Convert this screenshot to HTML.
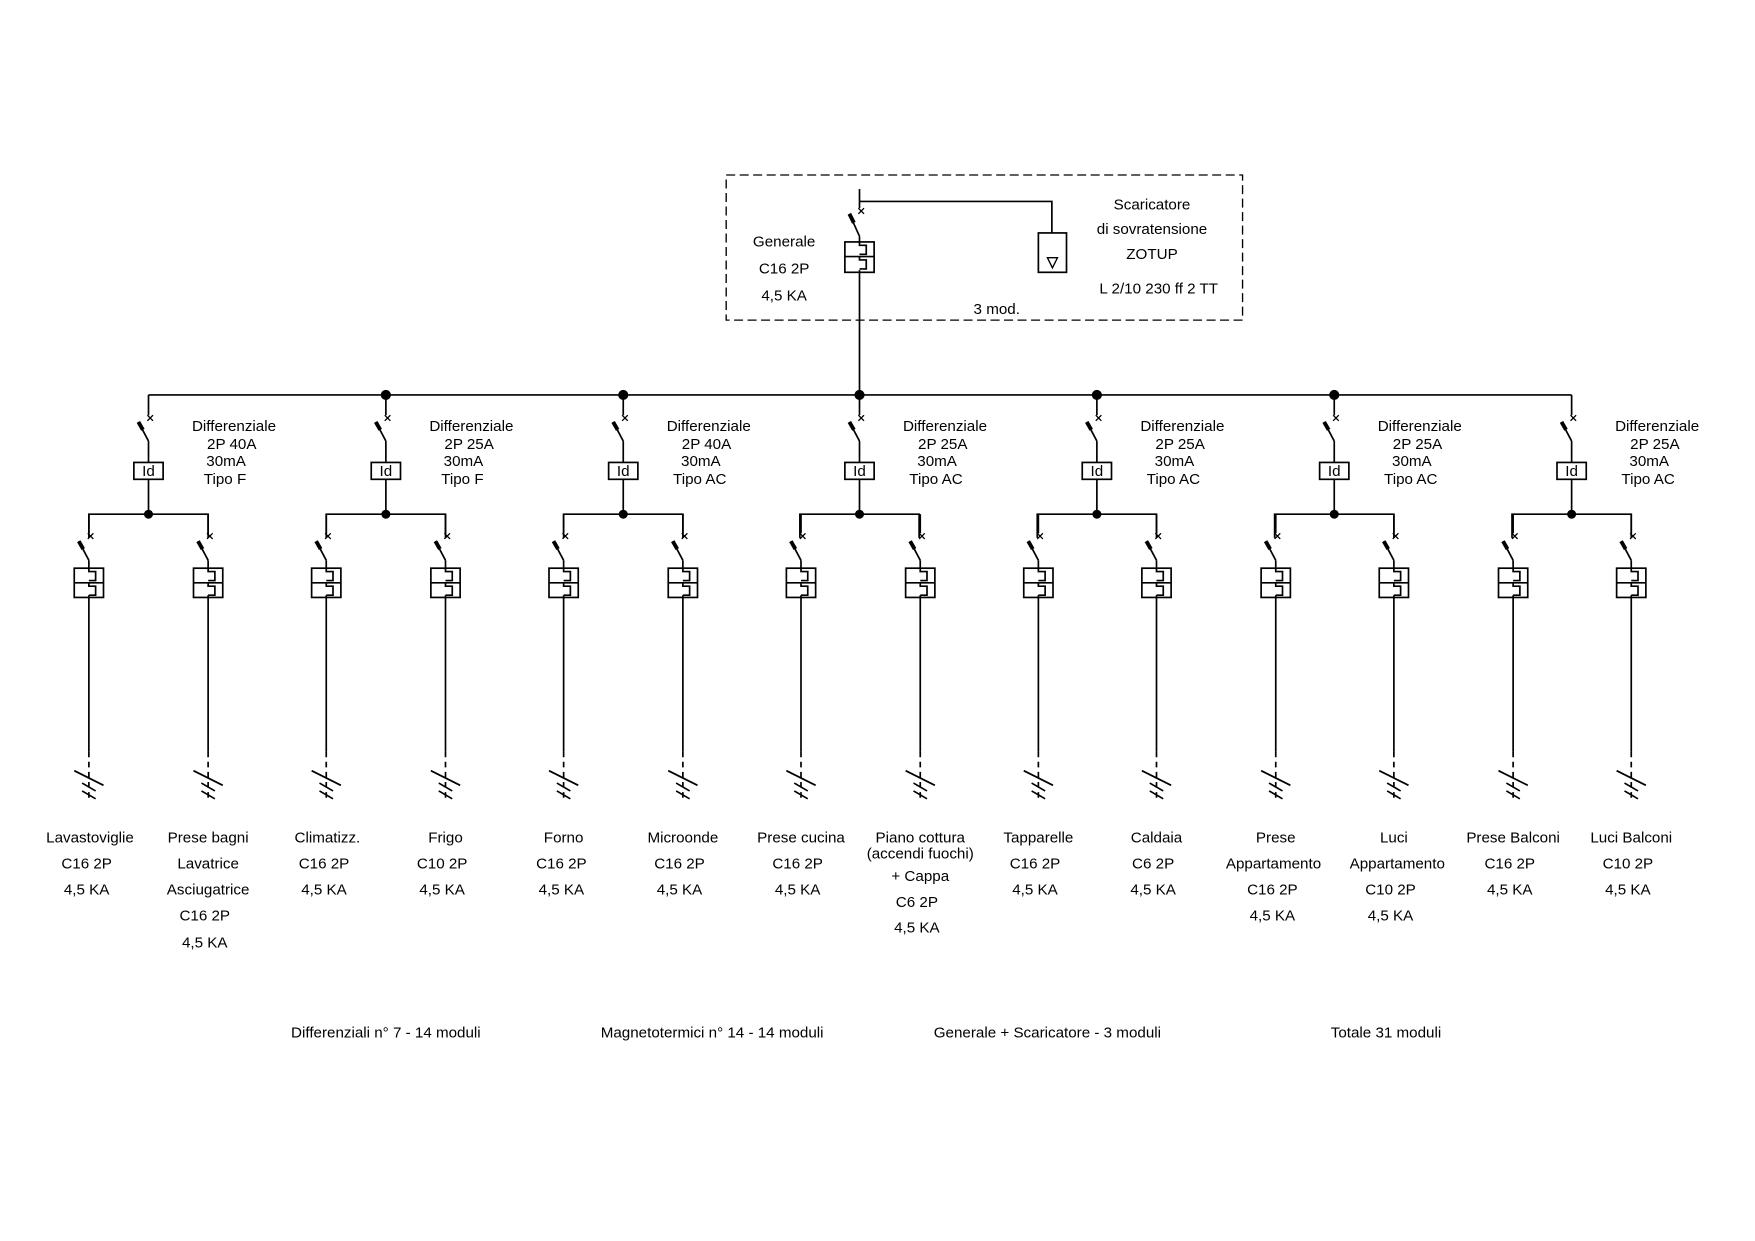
<!DOCTYPE html>
<html><head><meta charset="utf-8"><style>
html,body{margin:0;padding:0;background:#fff;}
svg{display:block;}
text{font-family:"Liberation Sans Narrow","Liberation Sans",sans-serif;font-size:13.5px;fill:#000;text-anchor:middle;}
.l{text-anchor:start;}
</style></head><body>
<svg width="1755" height="1241" viewBox="0 0 1560 1103" xmlns="http://www.w3.org/2000/svg">
<defs>
<g id="br" stroke="#000" stroke-width="1.5" fill="none">
<line x1="0" y1="457" x2="0" y2="474"/>
<path d="M-1,474 l5,5 M4,474 l-5,5" stroke-width="1.2"/>
<line x1="-9" y1="481" x2="0" y2="498"/>
<line x1="-9" y1="481" x2="-5" y2="488" stroke-width="3.5"/>
<line x1="0" y1="498" x2="0" y2="505"/>
<rect x="-13" y="505" width="26" height="26"/>
<line x1="-13" y1="518" x2="13" y2="518"/>
<path d="M0,505 v3 h6 v8 h-6 M0,518 v3 h6 v8 h-6"/>
<line x1="0" y1="529" x2="0" y2="668"/>
<line x1="0" y1="668" x2="0" y2="713" stroke-dasharray="5,4"/>
<line x1="-13" y1="685" x2="13" y2="698"/>
<line x1="-6" y1="696" x2="6" y2="703"/>
<line x1="-6" y1="703" x2="6" y2="710"/>
</g>
<g id="df" stroke="#000" stroke-width="1.5" fill="none">
<line x1="0" y1="351" x2="0" y2="369"/>
<path d="M-1,369 l5,5 M4,369 l-5,5" stroke-width="1.2"/>
<line x1="-9" y1="375" x2="0" y2="392"/>
<line x1="-9" y1="375" x2="-5" y2="382" stroke-width="3.5"/>
<line x1="0" y1="392" x2="0" y2="411"/>
<rect x="-13" y="411" width="26" height="15"/>
<line x1="0" y1="426" x2="0" y2="457"/>
<path d="M-53,478 V457 H53 V478"/>
<circle cx="0" cy="457" r="4" fill="#000" stroke="none"/>
</g>
</defs>

<!-- top box -->
<rect x="645.5" y="155.5" width="459" height="129" fill="none" stroke="#000" stroke-width="1.2" stroke-dasharray="8,4"/>
<g stroke="#000" stroke-width="1.5" fill="none">
<line x1="764" y1="168" x2="764" y2="185"/>
<path d="M763,185 l5,5 M768,185 l-5,5" stroke-width="1.2"/>
<line x1="755" y1="190" x2="764" y2="210"/>
<line x1="755" y1="190" x2="759" y2="198" stroke-width="3.5"/>
<line x1="764" y1="210" x2="764" y2="215"/>
<rect x="751" y="215" width="26" height="27"/>
<line x1="751" y1="228" x2="777" y2="228"/>
<path d="M764,215 v3 h6 v8 h-6 M764,228 v3 h6 v8 h-6"/>
<line x1="764" y1="240" x2="764" y2="351"/>
<path d="M764,179 H935 V207"/>
<rect x="923" y="207" width="25" height="35"/>
<path d="M931,229 h9 l-4.5,9 z" stroke-width="1.2"/>
<line x1="132" y1="351" x2="1397" y2="351"/>
</g>
<g fill="#000">
<circle cx="343" cy="351" r="4.5"/><circle cx="554" cy="351" r="4.5"/><circle cx="764" cy="351" r="4.5"/>
<circle cx="975" cy="351" r="4.5"/><circle cx="1186" cy="351" r="4.5"/>
</g>
<text x="697" y="219">Generale</text>
<text x="697" y="243">C16  2P</text>
<text x="697" y="267">4,5  KA</text>
<text x="1024" y="186">Scaricatore</text>
<text x="1024" y="208">di  sovratensione</text>
<text x="1024" y="230">ZOTUP</text>
<text x="1030" y="261">L  2/10  230  ff  2  TT</text>
<text x="886" y="279">3  mod.</text>

<use href="#df" x="132"/><use href="#df" x="343"/><use href="#df" x="554"/><use href="#df" x="764"/>
<use href="#df" x="975"/><use href="#df" x="1186"/><use href="#df" x="1397"/>

<g style="font-size:11px">
<text x="132" y="423">Id</text><text x="343" y="423">Id</text><text x="554" y="423">Id</text><text x="764" y="423">Id</text>
<text x="975" y="423">Id</text><text x="1186" y="423">Id</text><text x="1397" y="423">Id</text>
</g>

<g>
<text x="208" y="383">Differenziale</text><text x="206" y="399">2P  40A</text><text x="201" y="414">30mA</text><text x="200" y="430">Tipo  F</text>
<text x="419" y="383">Differenziale</text><text x="417" y="399">2P  25A</text><text x="412" y="414">30mA</text><text x="411" y="430">Tipo  F</text>
<text x="630" y="383">Differenziale</text><text x="628" y="399">2P  40A</text><text x="623" y="414">30mA</text><text x="622" y="430">Tipo  AC</text>
<text x="840" y="383">Differenziale</text><text x="838" y="399">2P  25A</text><text x="833" y="414">30mA</text><text x="832" y="430">Tipo  AC</text>
<text x="1051" y="383">Differenziale</text><text x="1049" y="399">2P  25A</text><text x="1044" y="414">30mA</text><text x="1043" y="430">Tipo  AC</text>
<text x="1262" y="383">Differenziale</text><text x="1260" y="399">2P  25A</text><text x="1255" y="414">30mA</text><text x="1254" y="430">Tipo  AC</text>
<text x="1473" y="383">Differenziale</text><text x="1471" y="399">2P  25A</text><text x="1466" y="414">30mA</text><text x="1465" y="430">Tipo  AC</text>
</g>

<use href="#br" x="79"/><use href="#br" x="185"/><use href="#br" x="290"/><use href="#br" x="396"/>
<use href="#br" x="501"/><use href="#br" x="607"/><use href="#br" x="712"/><use href="#br" x="818"/>
<use href="#br" x="923"/><use href="#br" x="1028"/><use href="#br" x="1134"/><use href="#br" x="1239"/>
<use href="#br" x="1345"/><use href="#br" x="1450"/>

<g>
<text x="80" y="749">Lavastoviglie</text><text x="77" y="772">C16  2P</text><text x="77" y="795">4,5  KA</text>
<text x="185" y="749">Prese  bagni</text><text x="185" y="772">Lavatrice</text><text x="185" y="795">Asciugatrice</text><text x="182" y="818">C16  2P</text><text x="182" y="842">4,5  KA</text>
<text x="291" y="749">Climatizz.</text><text x="288" y="772">C16  2P</text><text x="288" y="795">4,5  KA</text>
<text x="396" y="749">Frigo</text><text x="393" y="772">C10  2P</text><text x="393" y="795">4,5  KA</text>
<text x="501" y="749">Forno</text><text x="499" y="772">C16  2P</text><text x="499" y="795">4,5  KA</text>
<text x="607" y="749">Microonde</text><text x="604" y="772">C16  2P</text><text x="604" y="795">4,5  KA</text>
<text x="712" y="749">Prese  cucina</text><text x="709" y="772">C16  2P</text><text x="709" y="795">4,5  KA</text>
<text x="818" y="749">Piano  cottura</text><text x="818" y="763">(accendi  fuochi)</text><text x="818" y="783">+  Cappa</text><text x="815" y="806">C6  2P</text><text x="815" y="829">4,5  KA</text>
<text x="923" y="749">Tapparelle</text><text x="920" y="772">C16  2P</text><text x="920" y="795">4,5  KA</text>
<text x="1028" y="749">Caldaia</text><text x="1025" y="772">C6  2P</text><text x="1025" y="795">4,5  KA</text>
<text x="1134" y="749">Prese</text><text x="1132" y="772">Appartamento</text><text x="1131" y="795">C16  2P</text><text x="1131" y="818">4,5  KA</text>
<text x="1239" y="749">Luci</text><text x="1242" y="772">Appartamento</text><text x="1236" y="795">C10  2P</text><text x="1236" y="818">4,5  KA</text>
<text x="1345" y="749">Prese  Balconi</text><text x="1342" y="772">C16  2P</text><text x="1342" y="795">4,5  KA</text>
<text x="1450" y="749">Luci  Balconi</text><text x="1447" y="772">C10  2P</text><text x="1447" y="795">4,5  KA</text>
</g>

<text x="343" y="922">Differenziali  n°  7  -  14  moduli</text>
<text x="633" y="922">Magnetotermici  n°  14  -  14  moduli</text>
<text x="931" y="922">Generale  +  Scaricatore  -  3  moduli</text>
<text x="1232" y="922">Totale  31  moduli</text>
</svg>
</body></html>
